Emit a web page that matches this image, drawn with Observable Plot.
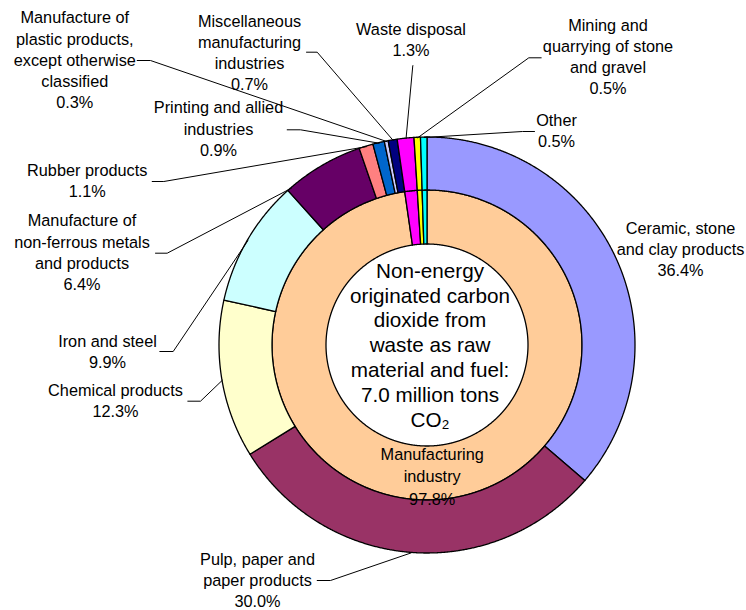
<!DOCTYPE html>
<html><head><meta charset="utf-8">
<script src="https://cdn.jsdelivr.net/npm/d3@7"></script>
<script src="https://cdn.jsdelivr.net/npm/@observablehq/plot@0.6"></script>
<style>body{margin:0;background:#fff;}</style>
</head><body><div id="chart"></div>
<script>
// ---- data ----
const outerCategories = [
  "Ceramic, stone and clay products",
  "Pulp, paper and paper products",
  "Chemical products",
  "Iron and steel",
  "Manufacture of non-ferrous metals and products",
  "Rubber products",
  "Printing and allied industries",
  "Manufacture of plastic products, except otherwise classified",
  "Miscellaneous manufacturing industries",
  "Waste disposal",
  "Mining and quarrying of stone and gravel",
  "Other"
];
const outerValues = [36.4, 30.0, 12.3, 9.9, 6.4, 1.1, 0.9, 0.3, 0.7, 1.3, 0.5, 0.5];
const outerLabelLines = [
  ["Ceramic, stone", "and clay products"],
  ["Pulp, paper and", "paper products"],
  ["Chemical products"],
  ["Iron and steel"],
  ["Manufacture of", "non-ferrous metals", "and products"],
  ["Rubber products"],
  ["Printing and allied", "industries"],
  ["Manufacture of", "plastic products,", "except otherwise", "classified"],
  ["Miscellaneous", "manufacturing", "industries"],
  ["Waste disposal"],
  ["Mining and", "quarrying of stone", "and gravel"],
  ["Other"]
];
const outerColors = ["#9999FF", "#993366", "#FFFFCC", "#CCFFFF", "#660066", "#FF8080",
                     "#0066CC", "#CCCCFF", "#000080", "#FF00FF", "#FFFF00", "#00FFFF"];

const innerCategories = ["Manufacturing industry", "Waste disposal",
                         "Mining and quarrying of stone and gravel", "Other"];
const innerValues = [97.8, 1.3, 0.5, 0.5];
const innerLabelLines = ["Manufacturing", "industry"];
const innerColors = ["#FFCC99", "#FF00FF", "#FFFF00", "#00FFFF"];

const centerTitle = ["Non-energy", "originated carbon", "dioxide from", "waste as raw",
                     "material and fuel:", "7.0 million tons", "CO\u2082"];

// ---- layout ----
const W = 746, H = 610;
const CX = 427, CY = 345, R_OUT = 208, R_MID = 155, R_IN = 101;
const LH = 21.3;
// label anchor (center x, first baseline y), leader start + elbow, target fraction within slice
const outerLabelLayout = [
  {x: 680,   y: 233.3, leader: null},
  {x: 257,   y: 564,   leader: [[316.7, 580], [330, 580]], frac: 0.5},
  {x: 115,   y: 395,   leader: [[187.3, 400.7], [200, 400.7]], frac: 0.5},
  {x: 107,   y: 346,   leader: [[159.3, 351], [172.7, 351]], frac: 0.5},
  {x: 81.5,  y: 225.7, leader: [[155, 252.7], [166.7, 252.7]], frac: 0.05},
  {x: 86.7,  y: 175,   leader: [[151.7, 181], [163.3, 181]], frac: 0.5},
  {x: 218,   y: 112.7, leader: [[286.7, 129.3], [300, 129.3]], frac: 0.5},
  {x: 74.3,  y: 22.7,  leader: [[136.7, 60], [150, 60]], frac: 0.5},
  {x: 249,   y: 26,    leader: [[306, 51.7], [316.7, 51.7]], frac: 0.5},
  {x: 410.5, y: 34.3,  leader: [[412.3, 65], [412.3, 65]], frac: 0.5},
  {x: 607.5, y: 30,    leader: [[540.7, 57.3], [528.3, 57.3]], frac: 0.5},
  {x: 556,   y: 125,   leader: [[534, 131], [522, 131]], frac: 0.5}
];
const innerLabelLayout = {x: 431.7, y: 459, lh: 22.5};
const centerLayout = {x: 429.5, y: 277.3, lh: 24.8};

// ---- geometry from data ----
function ringRows(values, cats, ring, r0, r1) {
  const sum = d3.sum(values);
  const rows = [];
  const angles = [];
  let cum = 0;
  values.forEach((v, i) => {
    const a0 = cum / sum * 2 * Math.PI;
    cum += v;
    const a1 = cum / sum * 2 * Math.PI;
    angles.push([a0, a1]);
    const n = Math.max(2, Math.ceil((a1 - a0) / (Math.PI / 720)));
    for (let k = 0; k <= n; k++) {
      const a = a0 + (a1 - a0) * k / n;
      rows.push({
        slice: ring + i, category: cats[i],
        xi: CX + r0 * Math.sin(a), yi: CY - r0 * Math.cos(a),
        xo: CX + r1 * Math.sin(a), yo: CY - r1 * Math.cos(a)
      });
    }
  });
  return {rows, angles};
}
const outer = ringRows(outerValues, outerCategories, "o", R_MID, R_OUT);
const inner = ringRows(innerValues, innerCategories, "i", R_IN, R_MID);

const colorDomain = [...outerCategories, "Manufacturing industry"];
const colorRange = [...outerColors, innerColors[0]];

// labels
const labelRows = [];
const leaderRows = [];
outerCategories.forEach((c, i) => {
  const L = outerLabelLayout[i];
  const lines = [...outerLabelLines[i], outerValues[i].toFixed(1) + "%"];
  lines.forEach((t, k) => labelRows.push({x: L.x, y: L.y + k * LH, text: t}));
  if (L.leader) {
    const [a0, a1] = outer.angles[i];
    const a = a0 + (a1 - a0) * L.frac;
    leaderRows.push({id: i, x: L.leader[0][0], y: L.leader[0][1]});
    leaderRows.push({id: i, x: L.leader[1][0], y: L.leader[1][1]});
    leaderRows.push({id: i, x: CX + R_OUT * Math.sin(a), y: CY - R_OUT * Math.cos(a)});
  }
});
const innerText = [...innerLabelLines, innerValues[0].toFixed(1) + "%"]
  .map((t, k) => ({x: innerLabelLayout.x, y: innerLabelLayout.y + k * innerLabelLayout.lh, text: t}));
const centerText = centerTitle
  .map((t, k) => ({x: centerLayout.x, y: centerLayout.y + k * centerLayout.lh, text: t}));

const chart = Plot.plot({
  width: W, height: H,
  marginTop: 0, marginRight: 0, marginBottom: 0, marginLeft: 0,
  x: {domain: [0, W], axis: null},
  y: {domain: [H, 0], axis: null},
  color: {domain: colorDomain, range: colorRange},
  style: {fontFamily: "'Liberation Sans', Arial, sans-serif", background: "#fff", overflow: "visible"},
  marks: [
    Plot.area(inner.rows, {x1: "xi", y1: "yi", x2: "xo", y2: "yo", z: "slice", fill: "category",
      stroke: "#000", strokeWidth: 1.3, strokeLinejoin: "round"}),
    Plot.area(outer.rows, {x1: "xi", y1: "yi", x2: "xo", y2: "yo", z: "slice", fill: "category",
      stroke: "#000", strokeWidth: 1.3, strokeLinejoin: "round"}),
    Plot.line(leaderRows, {x: "x", y: "y", z: "id", stroke: "#000", strokeWidth: 1, curve: "linear"}),
    Plot.text(labelRows, {x: "x", y: "y", text: "text", fontSize: 16.3, lineAnchor: "bottom",
      textAnchor: "middle", fill: "#000"}),
    Plot.text(innerText, {x: "x", y: "y", text: "text", fontSize: 16.3, lineAnchor: "bottom",
      textAnchor: "middle", fill: "#000"}),
    Plot.text(centerText, {x: "x", y: "y", text: "text", fontSize: 20.7, lineAnchor: "bottom",
      textAnchor: "middle", fill: "#000"})
  ]
});
document.getElementById("chart").appendChild(chart);
</script>
</body></html>
